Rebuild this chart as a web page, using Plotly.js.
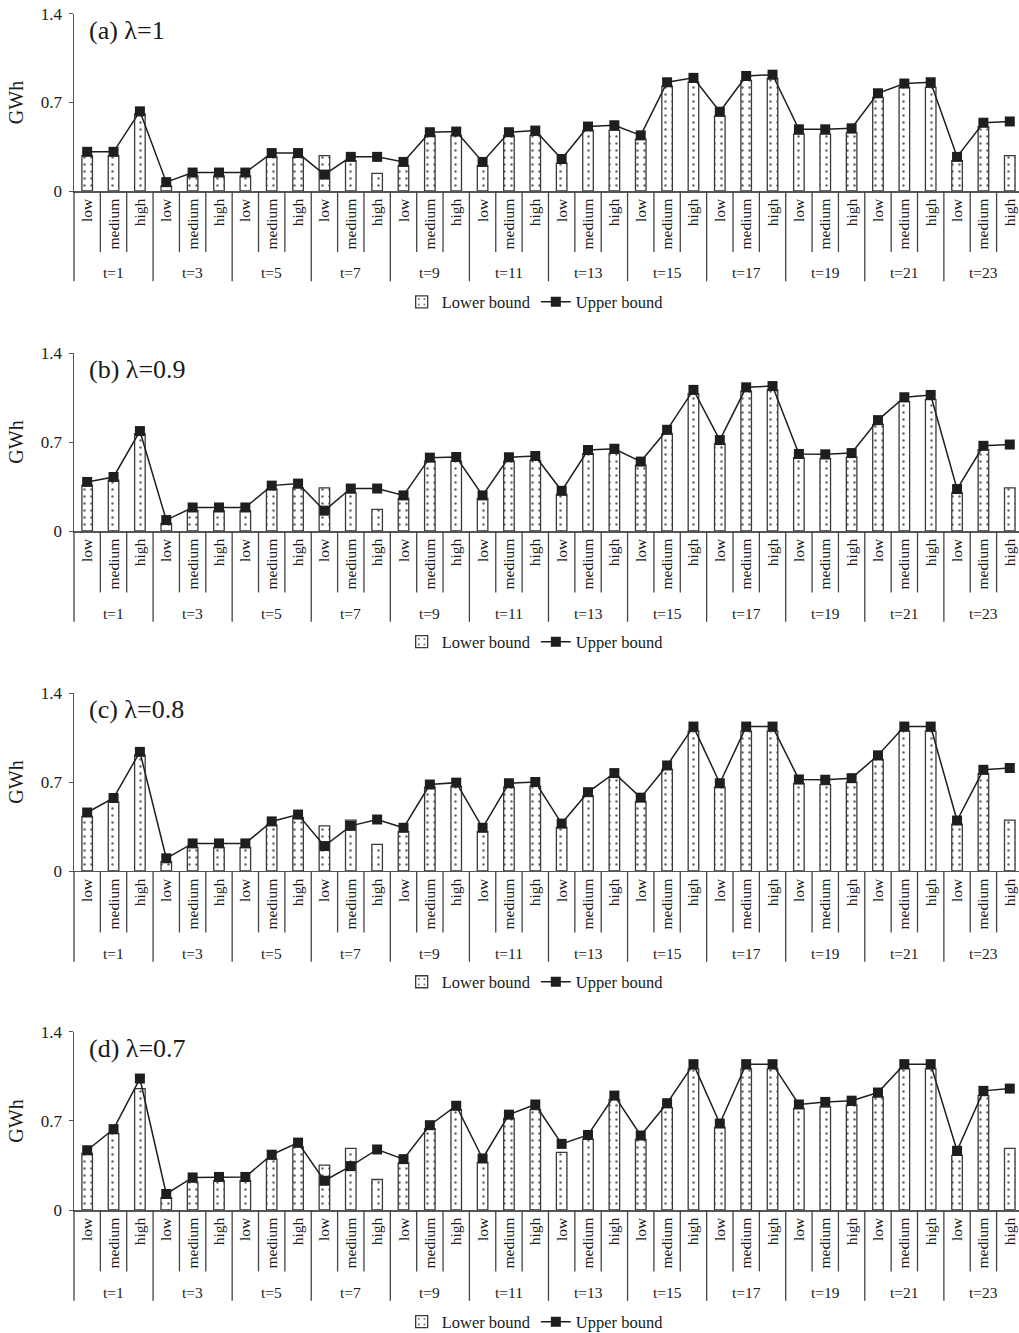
<!DOCTYPE html>
<html><head><meta charset="utf-8">
<script src="https://cdn.plot.ly/plotly-3.0.1.min.js"></script>
<style>html,body{margin:0;padding:0;background:#fff}</style>
</head><body><div id="chart" style="width:1019px;height:1333px"></div>
<script>
const groups = ['t=1','t=3','t=5','t=7','t=9','t=11','t=13','t=15','t=17','t=19','t=21','t=23'];
const levels = ['low','medium','high'];
const panelTitles = ['(a) \u03bb=1','(b) \u03bb=0.9','(c) \u03bb=0.8','(d) \u03bb=0.7'];

const lower_a = [0.28,0.28,0.61,0.04,0.12,0.12,0.12,0.27,0.27,0.28,0.24,0.14,0.20,0.44,0.44,0.20,0.44,0.44,0.22,0.48,0.48,0.41,0.83,0.86,0.595,0.875,0.89,0.45,0.45,0.46,0.74,0.82,0.82,0.24,0.51,0.28];
const upper_a = [0.31,0.31,0.63,0.07,0.146,0.146,0.146,0.30,0.30,0.13,0.27,0.27,0.23,0.465,0.47,0.23,0.465,0.478,0.253,0.51,0.52,0.44,0.86,0.895,0.627,0.91,0.92,0.488,0.488,0.496,0.773,0.85,0.86,0.27,0.54,0.55];

const lower_b = [0.36,0.40,0.765,0.06,0.16,0.16,0.16,0.33,0.34,0.34,0.30,0.17,0.256,0.55,0.55,0.256,0.55,0.556,0.287,0.608,0.61,0.517,0.765,1.08,0.687,1.10,1.11,0.577,0.57,0.58,0.838,1.018,1.034,0.30,0.64,0.34];
const upper_b = [0.386,0.425,0.786,0.086,0.185,0.185,0.185,0.357,0.373,0.16,0.334,0.334,0.28,0.577,0.582,0.28,0.58,0.59,0.316,0.637,0.647,0.546,0.796,1.11,0.715,1.13,1.14,0.606,0.603,0.613,0.872,1.052,1.07,0.33,0.67,0.68];

const lower_c = [0.43,0.543,0.914,0.073,0.185,0.185,0.185,0.36,0.42,0.355,0.40,0.21,0.31,0.66,0.666,0.31,0.66,0.668,0.342,0.59,0.74,0.548,0.80,1.10,0.66,1.10,1.10,0.687,0.68,0.697,0.877,1.10,1.10,0.368,0.765,0.40];
const upper_c = [0.46,0.574,0.937,0.10,0.217,0.217,0.217,0.39,0.444,0.196,0.355,0.405,0.34,0.68,0.695,0.34,0.69,0.70,0.373,0.62,0.77,0.577,0.83,1.136,0.69,1.136,1.136,0.72,0.718,0.73,0.91,1.136,1.136,0.397,0.796,0.81];

const lower_d = [0.445,0.60,0.955,0.097,0.22,0.23,0.23,0.40,0.497,0.353,0.484,0.24,0.37,0.64,0.79,0.374,0.72,0.79,0.453,0.557,0.87,0.555,0.806,1.11,0.65,1.11,1.11,0.80,0.81,0.824,0.89,1.11,1.11,0.43,0.90,0.484];
const upper_d = [0.47,0.636,1.034,0.126,0.256,0.26,0.26,0.435,0.53,0.23,0.345,0.476,0.40,0.667,0.82,0.405,0.75,0.83,0.52,0.59,0.90,0.586,0.84,1.147,0.68,1.147,1.147,0.83,0.85,0.86,0.924,1.147,1.147,0.466,0.937,0.955];

const yTicks = [0, 0.7, 1.4];
const yTickText = ['0', '0.7', '1.4'];

const lowers = [lower_a, lower_b, lower_c, lower_d];
const uppers = [upper_a, upper_b, upper_c, upper_d];

const FONT = 'Liberation Serif, Times New Roman, serif';
const subLabels = groups.flatMap(() => levels);
const xs = subLabels.map((_, i) => i);
const groupCenters = groups.map((_, g) => g * levels.length + 1);

const domains = [[0.85671, 0.98950], [0.60165, 0.73518], [0.34659, 0.48012], [0.09227, 0.22581]];
const legendY = [0.7734, 0.5184, 0.2633, 0.0083];

const data = [];
const layout = {
  width: 1019, height: 1333,
  margin: {l: 74, r: 0, t: 0, b: 0, autoexpand: false},
  paper_bgcolor: '#fff', plot_bgcolor: '#fff',
  font: {family: FONT, color: '#1a1a1a', size: 15},
  bargap: 0,
  shapes: [], annotations: []
};

for (let p = 0; p < 4; p++) {
  const sfx = p === 0 ? '' : String(p + 1);
  const xa = 'x' + sfx, ya = 'y' + sfx;
  const lg = 'legend' + sfx;
  data.push({
    type: 'bar', x: xs, y: lowers[p], width: 0.4, name: 'Lower bound',
    xaxis: xa, yaxis: ya, legend: lg,
    marker: {color: '#ffffff', line: {color: '#3a3a3a', width: 1.3},
      pattern: {shape: '.', fgcolor: '#666', bgcolor: '#fff', size: 7, solidity: 0.1}}
  });
  data.push({
    type: 'scatter', mode: 'lines+markers', x: xs, y: uppers[p], name: 'Upper bound',
    xaxis: xa, yaxis: ya, legend: lg, cliponaxis: false,
    line: {color: '#1e1e1e', width: 1.5},
    marker: {symbol: 'square', size: 10, color: '#1e1e1e'}
  });
  layout['xaxis' + sfx] = {
    domain: [0, 1], anchor: ya, range: [-0.5, 35.35],
    tickvals: xs, ticktext: subLabels, tickangle: -90, ticks: '',
    tickfont: {family: FONT, size: 15.5, color: '#1a1a1a'},
    showline: true, linecolor: '#555', linewidth: 1.5,
    showgrid: false, zeroline: false, fixedrange: true
  };
  layout['yaxis' + sfx] = {
    domain: domains[p], anchor: xa, range: [0, 1.4],
    tickvals: yTicks, ticktext: yTickText, ticks: 'outside', ticklen: 4, tickcolor: '#555',
    ticklabelstandoff: 3,
    tickfont: {family: FONT, size: 17, color: '#1a1a1a'},
    showline: true, linecolor: '#555', linewidth: 1.5,
    showgrid: false, zeroline: false, fixedrange: true,
    title: {text: 'GWh', font: {family: FONT, size: 20, color: '#1a1a1a'}, standoff: 12}
  };
  layout[lg] = {
    orientation: 'h', x: 0.488, xanchor: 'center', y: legendY[p], yanchor: 'middle',
    font: {family: FONT, size: 16.5, color: '#1a1a1a'}, bgcolor: 'rgba(0,0,0,0)',
    itemwidth: 30, traceorder: 'normal'
  };
  // dividers
  for (let k = 0; k < xs.length - 1; k++) {
    const isGroup = (k + 1) % levels.length === 0;
    layout.shapes.push({
      type: 'line', xref: xa, yref: ya + ' domain',
      x0: k + 0.5, x1: k + 0.5, y0: 0, y1: isGroup ? -0.51 : -0.345,
      line: {color: '#444', width: 1.3}
    });
  }
  layout.shapes.push({
    type: 'line', xref: xa + ' domain', yref: ya + ' domain',
    x0: 0, x1: 0, y0: 0, y1: -0.51, line: {color: '#444', width: 1.3}
  });
  groups.forEach((g, gi) => {
    layout.annotations.push({
      xref: xa, yref: ya + ' domain', x: groupCenters[gi], y: -0.463,
      text: g, showarrow: false, xanchor: 'center', yanchor: 'middle',
      font: {family: FONT, size: 15.5, color: '#1a1a1a'}
    });
  });
  layout.annotations.push({
    xref: xa + ' domain', yref: ya + ' domain', x: 0.014, y: 0.905,
    text: panelTitles[p], showarrow: false, xanchor: 'left', yanchor: 'middle',
    font: {family: FONT, size: 26, color: '#1a1a1a'}
  });
}

Plotly.newPlot('chart', data, layout, {displayModeBar: false, staticPlot: true});
</script></body></html>
